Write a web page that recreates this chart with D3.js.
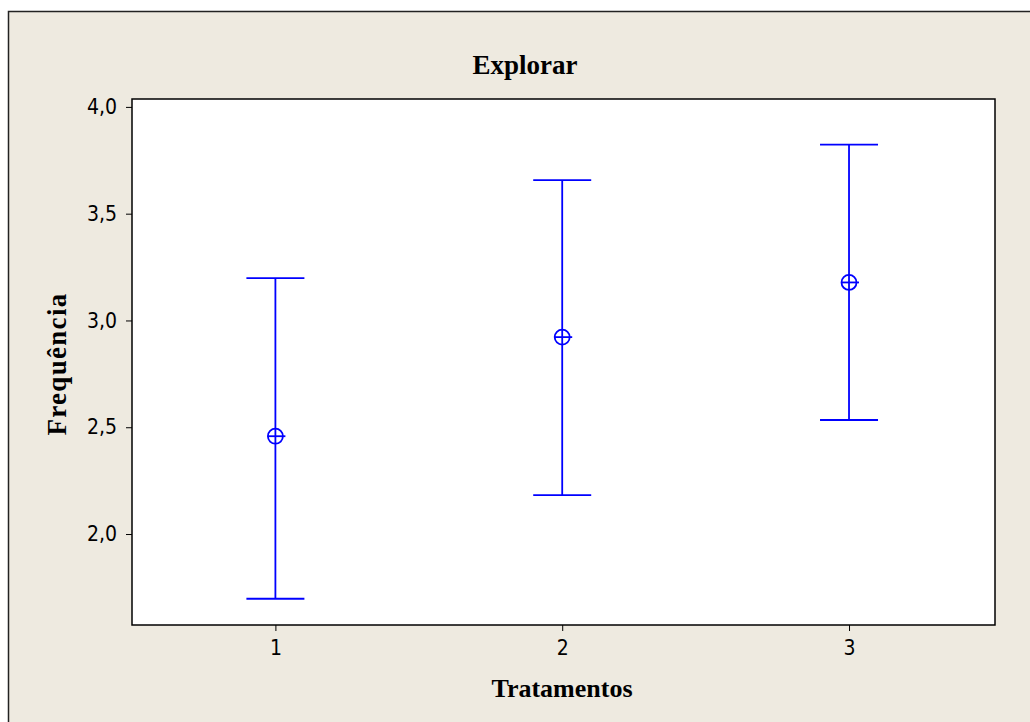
<!DOCTYPE html>
<html>
<head>
<meta charset="utf-8">
<script src="https://cdn.jsdelivr.net/npm/d3@7"></script>
<style>
  body { margin: 0; background: #fff; }
</style>
</head>
<body>
<script>
const tratamentos = [1, 2, 3]
const medias = [2.458, 2.922, 3.178]
const inferior = [1.697, 2.182, 2.534]
const superior = [3.198, 3.657, 3.823]
const yTicks = [2.0, 2.5, 3.0, 3.5, 4.0]

const W = 1030, H = 722
const box = { left: 132, top: 99, right: 995, bottom: 625 }

const svg = d3.select('body')
    .append('svg')
    .attr('width', W)
    .attr('height', H)

// fundo e moldura externa
svg.append('rect')
    .attr('x', 8.5).attr('y', 11.5)
    .attr('width', W + 20).attr('height', H + 20)
    .attr('fill', '#EEEAE0')
    .attr('stroke', '#222').attr('stroke-width', 1.5)

svg.append('rect')
    .attr('x', box.left).attr('y', box.top)
    .attr('width', box.right - box.left).attr('height', box.bottom - box.top)
    .attr('fill', '#fff')

const x = d3.scaleLinear().domain([0.5, 3.509]).range([box.left, box.right])
const y = d3.scaleLinear().domain([1.574, 4.037]).range([box.bottom, box.top])

const yAxis = d3.axisLeft(y)
    .tickValues(yTicks)
    .tickSize(6)
    .tickFormat(d => d3.format('.1f')(d).replace('.', ','))
const xAxis = d3.axisBottom(x)
    .tickValues(tratamentos)
    .tickSize(6)
    .tickFormat(d3.format('d'))

const gy = svg.append('g').attr('transform', `translate(${box.left},0)`).call(yAxis)
const gx = svg.append('g').attr('transform', `translate(0,${box.bottom})`).call(xAxis)

for (const g of [gx, gy]) {
    g.select('.domain').remove()
    g.selectAll('line').attr('stroke', '#000').attr('stroke-width', 1)
    g.selectAll('text')
        .attr('fill', '#000')
        .style('font-family', '"DejaVu Sans Condensed", "Liberation Sans", sans-serif')
        .style('font-size', '21px')
}
gy.selectAll('text').attr('x', -15)
gx.selectAll('text').attr('y', 15)

// borda da área do gráfico
svg.append('rect')
    .attr('x', box.left).attr('y', box.top)
    .attr('width', box.right - box.left).attr('height', box.bottom - box.top)
    .attr('fill', 'none')
    .attr('stroke', '#000').attr('stroke-width', 1.5)

// barras de intervalo
const blue = '#0000FF'
const cap = 29
const bars = svg.append('g')
    .attr('stroke', blue).attr('stroke-width', 1.8).attr('fill', 'none')

tratamentos.forEach((t, i) => {
    const cx = x(t)
    bars.append('line')
        .attr('x1', cx).attr('x2', cx)
        .attr('y1', y(superior[i])).attr('y2', y(inferior[i]))
    bars.append('line')
        .attr('x1', cx - cap).attr('x2', cx + cap)
        .attr('y1', y(superior[i])).attr('y2', y(superior[i]))
    bars.append('line')
        .attr('x1', cx - cap).attr('x2', cx + cap)
        .attr('y1', y(inferior[i])).attr('y2', y(inferior[i]))
    // média: círculo com cruz
    const cy = y(medias[i])
    bars.append('circle').attr('cx', cx).attr('cy', cy).attr('r', 7.5)
    bars.append('line')
        .attr('x1', cx - 7.5).attr('x2', cx + 10)
        .attr('y1', cy).attr('y2', cy)
})

// textos
const serif = '"Liberation Serif", "Times New Roman", serif'
svg.append('text')
    .attr('x', 525).attr('y', 74)
    .attr('text-anchor', 'middle')
    .style('font-family', serif).style('font-weight', 'bold').style('font-size', '27px')
    .text('Explorar')

svg.append('text')
    .attr('x', 562).attr('y', 697)
    .attr('text-anchor', 'middle')
    .style('font-family', serif).style('font-weight', 'bold').style('font-size', '26px')
    .text('Tratamentos')

svg.append('text')
    .attr('transform', 'translate(66,364) rotate(-90)')
    .attr('text-anchor', 'middle')
    .style('font-family', serif).style('font-weight', 'bold').style('font-size', '27px')
    .style('letter-spacing', '1.3px')
    .text('Frequência')
</script>
</body>
</html>
